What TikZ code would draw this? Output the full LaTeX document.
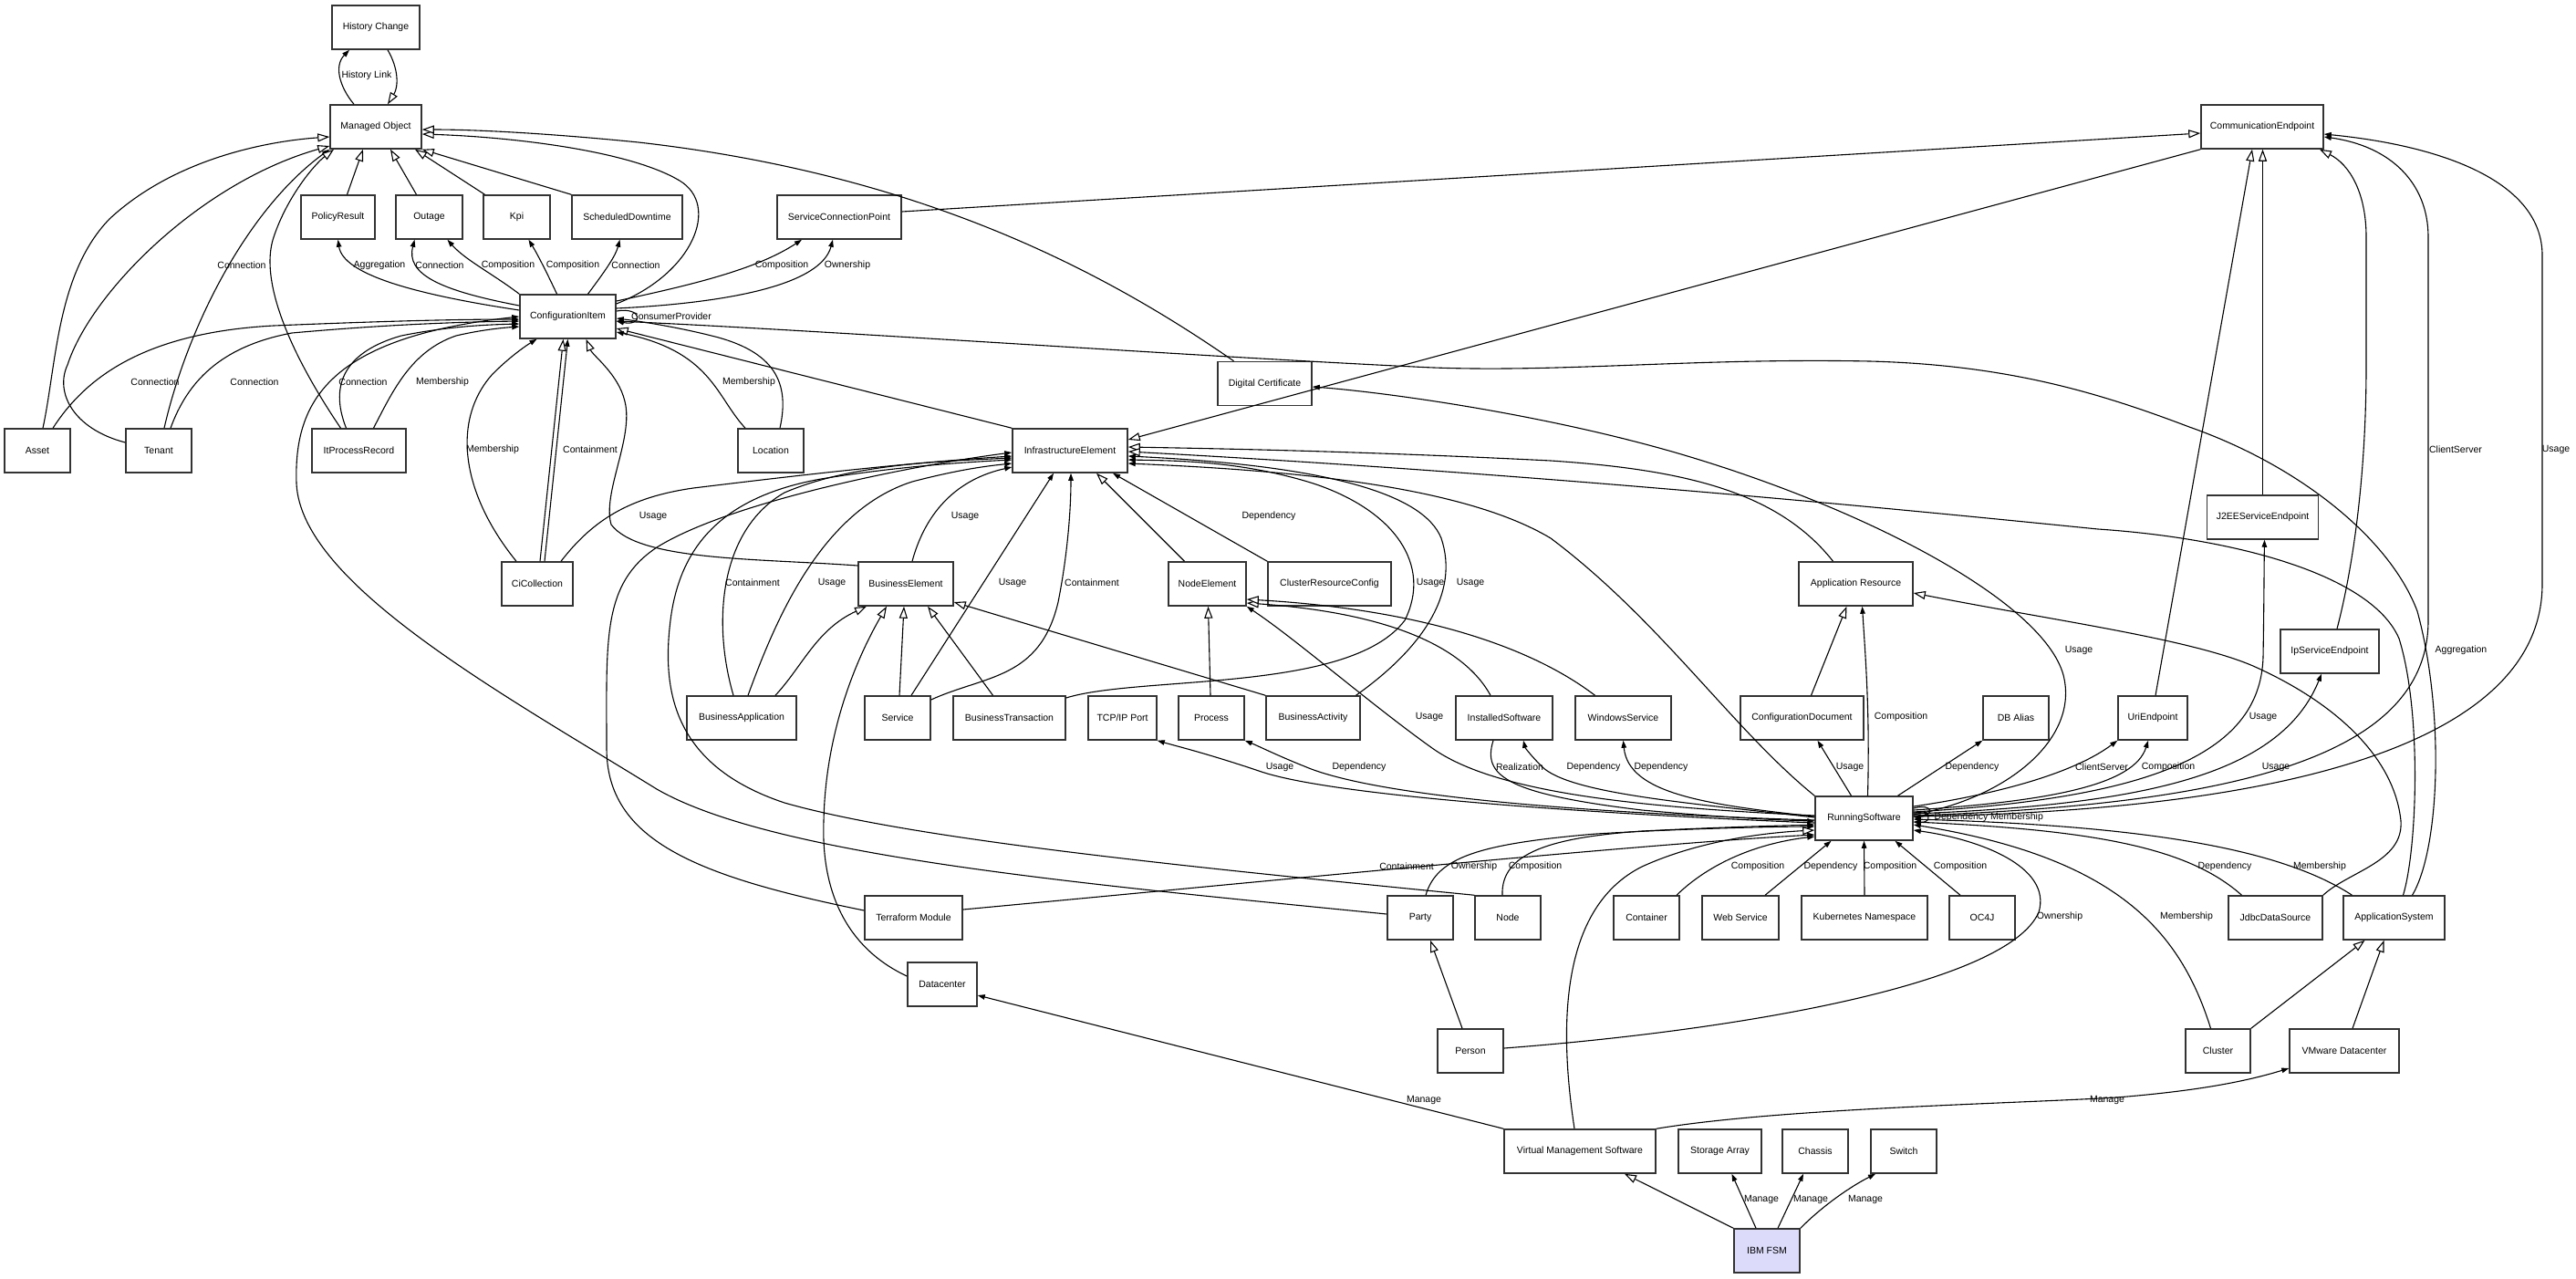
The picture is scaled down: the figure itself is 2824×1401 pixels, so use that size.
\documentclass[tikz,border=0pt]{standalone}
\usepackage{fontspec}
\setmainfont{Liberation Sans}
\usetikzlibrary{arrows.meta}
\begin{document}
\begin{tikzpicture}[x=1pt,y=-1pt,
  box/.style={draw=black!80,line width=1.5pt,minimum height=48pt,inner sep=0pt,font=\fontsize{10.5}{12}\selectfont,fill=white},
  lab/.style={font=\fontsize{10.5}{12}\selectfont,inner sep=0pt},
  gen/.style={line width=1.1pt,-{Triangle[length=13pt,width=9pt,fill=white]}},
  asc/.style={line width=1.1pt,-{Triangle[length=8pt,width=5.5pt]}}]
\useasboundingbox[fill=white] (0,0) rectangle (2824,1401);
% nodes
\node[box,minimum width=96pt] (hc) at (412,30) {History Change};
\node[box,minimum width=100pt] (mo) at (412,139) {Managed Object};
\node[box,minimum width=134pt] (ce) at (2480,139) {CommunicationEndpoint};
\node[box,minimum width=81pt] (pr) at (370.5,238) {PolicyResult};
\node[box,minimum width=73pt] (outg) at (470.5,238) {Outage};
\node[box,minimum width=73pt] (kpi) at (566.5,238) {Kpi};
\node[box,minimum width=121pt] (sd) at (687.5,238) {ScheduledDowntime};
\node[box,minimum width=136pt] (scp) at (920,238) {ServiceConnectionPoint};
\node[box,minimum width=105pt] (ci) at (622.5,347) {ConfigurationItem};
\node[box,minimum width=103pt] (dc) at (1386.5,420.5) {Digital Certificate};
\node[box,minimum width=72pt] (asset) at (41,494) {Asset};
\node[box,minimum width=72pt] (tenant) at (174,494) {Tenant};
\node[box,minimum width=103pt] (ipr) at (393.5,494) {ItProcessRecord};
\node[box,minimum width=72pt] (loc) at (845,494) {Location};
\node[box,minimum width=126pt] (ie) at (1173,494) {InfrastructureElement};
\node[box,minimum width=78pt] (cic) at (589,640) {CiCollection};
\node[box,minimum width=104pt] (be) at (993,640) {BusinessElement};
\node[box,minimum width=85pt] (ne) at (1323.5,640) {NodeElement};
\node[box,minimum width=135pt] (crc) at (1457.5,640) {ClusterResourceConfig};
\node[box,minimum width=125pt] (ar) at (2034.5,640) {Application Resource};
\node[box,minimum width=122pt] (j2ee) at (2480.5,567) {J2EEServiceEndpoint};
\node[box,minimum width=120pt] (ba) at (813,787) {BusinessApplication};
\node[box,minimum width=72pt] (svc) at (984,787) {Service};
\node[box,minimum width=123pt] (bt) at (1106.5,787) {BusinessTransaction};
\node[box,minimum width=75pt] (tcp) at (1230.5,787) {TCP/IP Port};
\node[box,minimum width=72pt] (proc) at (1328,787) {Process};
\node[box,minimum width=103pt] (bac) at (1439.5,787) {BusinessActivity};
\node[box,minimum width=106pt] (is) at (1649,787) {InstalledSoftware};
\node[box,minimum width=105pt] (ws) at (1779.5,787) {WindowsService};
\node[box,minimum width=135pt] (cd) at (1975.5,787) {ConfigurationDocument};
\node[box,minimum width=72pt] (dba) at (2210,787) {DB Alias};
\node[box,minimum width=76pt] (ue) at (2360,787) {UriEndpoint};
\node[box,minimum width=108pt] (ipse) at (2554,714) {IpServiceEndpoint};
\node[box,minimum width=107pt] (rs) at (2043.5,897) {RunningSoftware};
\node[box,minimum width=107pt] (tm) at (1001.5,1006) {Terraform Module};
\node[box,minimum width=72pt] (party) at (1557,1006) {Party};
\node[box,minimum width=72pt] (nd) at (1653,1006) {Node};
\node[box,minimum width=72pt] (cont) at (1805,1006) {Container};
\node[box,minimum width=84pt] (wsv) at (1908,1006) {Web Service};
\node[box,minimum width=138pt] (kn) at (2044,1006) {Kubernetes Namespace};
\node[box,minimum width=72pt] (oc4j) at (2173,1006) {OC4J};
\node[box,minimum width=103pt] (jds) at (2494.5,1006) {JdbcDataSource};
\node[box,minimum width=111pt] (as) at (2624.5,1006) {ApplicationSystem};
\node[box,minimum width=76pt] (dcn) at (1033,1079) {Datacenter};
\node[box,minimum width=72pt] (person) at (1612,1152) {Person};
\node[box,minimum width=71pt] (cluster) at (2431.5,1152) {Cluster};
\node[box,minimum width=120pt] (vmd) at (2570,1152) {VMware Datacenter};
\node[box,minimum width=166pt] (vms) at (1732,1262) {Virtual Management Software};
\node[box,minimum width=91pt] (sa) at (1885.5,1262) {Storage Array};
\node[box,minimum width=72pt] (chassis) at (1990,1262) {Chassis};
\node[box,minimum width=72pt] (sw) at (2087,1262) {Switch};
\node[box,minimum width=72pt,fill={rgb,255:red,220;green,220;blue,250}] (ibm) at (1937,1371) {IBM FSM};
% edges: top area
\draw[asc] ([xshift=-24pt]mo.north) .. controls (372,95) and (366,72) .. ([xshift=-29pt]hc.south);
\draw[gen] ([xshift=13pt]hc.south) .. controls (437,75) and (437,95) .. ([xshift=13pt]mo.north);
\draw[gen] ([xshift=10pt]pr.north) -- ([xshift=-14pt]mo.south);
\draw[gen] ([xshift=-14pt]outg.north) -- ([xshift=16pt]mo.south);
\draw[gen] ([xshift=-35pt]kpi.north) -- ([xshift=43pt]mo.south);
\draw[gen] (sd.north west) -- (mo.south east);
\draw[gen] ([yshift=14pt]ci.east) .. controls (760,300) and (790,225) .. (745,198) .. controls (690,165) and (560,150) .. ([yshift=-8pt]mo.east);
\draw[gen] ([xshift=-34pt]dc.north) .. controls (1200,290) and (1000,190) .. (700,156) .. controls (600,146) and (520,142) .. ([yshift=-3pt]mo.east);
\draw[gen] ([xshift=6pt]asset.north) .. controls (62,400) and (62,300) .. (120,240) .. controls (190,175) and (290,155) .. ([yshift=-11pt]mo.west);
\draw[gen] ([yshift=9pt]tenant.west) .. controls (80,470) and (60,430) .. (74,400) .. controls (100,320) and (220,200) .. ([yshift=-21pt]mo.west);
\draw[asc] ([xshift=6pt]tenant.north) .. controls (205,360) and (270,230) .. (mo.south west);
\draw[gen] ([xshift=-20pt]ipr.north) .. controls (340,420) and (280,320) .. (300,260) .. controls (315,215) and (345,180) .. ([xshift=-46pt]mo.south);
\draw[asc] ([yshift=7pt]ci.west) .. controls (450,322) and (376,300) .. (pr.south);
\draw[asc] ([yshift=12pt]ci.west) .. controls (480,318) and (445,300) .. ([xshift=-16pt]outg.south);
\draw[asc] (ci.north west) .. controls (540,300) and (510,285) .. ([xshift=20pt]outg.south);
\draw[asc] ([xshift=-12pt]ci.north) .. controls (600,300) and (590,280) .. ([xshift=13pt]kpi.south);
\draw[asc] ([xshift=22pt]ci.north) .. controls (665,295) and (675,280) .. ([xshift=-8pt]sd.south);
\draw[asc] ([yshift=17pt]ci.east) .. controls (760,312) and (830,295) .. ([xshift=-41pt]scp.south);
\draw[asc] ([yshift=9pt]ci.east) .. controls (800,332) and (900,312) .. ([xshift=-7pt]scp.south);
\draw[gen] ([yshift=6pt]scp.east) -- ([yshift=-7pt]ce.west);
\draw[asc] ([yshift=6pt]ci.east) .. controls (705,336) and (705,358) .. ([yshift=-5pt]ci.east);
\draw[asc] ([xshift=20pt]as.north) .. controls (2675,930) and (2680,780) .. (2650,670) .. controls (2620,590) and (2520,510) .. (2400,468) .. controls (2300,430) and (2200,400) .. (2050,396) .. controls (1850,392) and (1700,410) .. (1550,402) .. controls (1300,390) and (900,362) .. ([yshift=-5pt]ci.east);
\draw[gen] (ce.south west) -- ([yshift=12pt]ie.east);
\draw[gen] (ie.north west) -- ([yshift=-13pt]ci.east);
\draw[asc] ([xshift=-28pt]loc.north) .. controls (785,435) and (780,385) .. ([yshift=-17pt]ci.east);
\draw[asc] ([xshift=10pt]loc.north) .. controls (866,420) and (850,385) .. (780,368) .. controls (740,358) and (700,352) .. ([yshift=-2pt]ci.east);
% left cluster into CI
\draw[asc] ([xshift=17pt]asset.north) .. controls (90,420) and (150,365) .. (300,357) .. controls (420,352) and (500,350) .. ([yshift=-3pt]ci.west);
\draw[asc] ([xshift=13pt]tenant.north) .. controls (205,420) and (240,380) .. (320,365) .. controls (420,356) and (500,353) .. ([yshift=-5pt]ci.west);
\draw[asc] ([xshift=-14pt]ipr.north) .. controls (360,420) and (380,385) .. (440,368) .. controls (490,358) and (530,356) .. ([yshift=-8pt]ci.west);
\draw[asc] ([xshift=16pt]ipr.north) .. controls (430,430) and (450,385) .. (500,368) .. controls (530,361) and (555,359) .. ([yshift=-11pt]ci.west);
\draw[asc] ([yshift=4pt]party.west) .. controls (1200,970) and (850,940) .. (720,865) .. controls (550,760) and (330,640) .. (325,530) .. controls (322,440) and (360,370) .. (ci.west);
\draw[asc] ([xshift=-23pt]cic.north) .. controls (505,540) and (495,460) .. (540,410) .. controls (560,390) and (578,378) .. ([xshift=-34pt]ci.south);
\draw[gen] ([xshift=3pt]cic.north) -- ([xshift=-5pt]ci.south);
\draw[asc] ([xshift=8pt]cic.north) -- (ci.south);
\draw[gen] ([yshift=20pt]be.west) .. controls (830,612) and (700,615) .. (670,575) .. controls (660,540) and (695,480) .. (685,440) .. controls (678,410) and (650,390) .. ([xshift=20pt]ci.south);
% into InfrastructureElement
\draw[asc] ([xshift=26pt]cic.north) .. controls (650,570) and (690,545) .. (760,535) .. controls (900,518) and (1000,507) .. ([yshift=-6pt]ie.west);
\draw[asc] ([yshift=8pt]tm.west) .. controls (760,960) and (665,920) .. (665,820) .. controls (665,700) and (660,640) .. (720,600) .. controls (800,550) and (1000,510) .. ([yshift=-2pt]ie.west);
\draw[asc] (nd.north west) .. controls (1300,950) and (1000,920) .. (860,880) .. controls (740,840) and (725,760) .. (735,680) .. controls (745,600) and (790,545) .. (900,525) .. controls (980,512) and (1050,507) .. ([yshift=-10pt]ie.west);
\draw[asc] ([xshift=-9pt]ba.north) .. controls (780,680) and (790,580) .. (860,540) .. controls (930,510) and (1020,506) .. ([yshift=-8pt]ie.west);
\draw[asc] ([xshift=7pt]ba.north) .. controls (850,680) and (900,560) .. (1000,528) .. controls (1050,515) and (1080,511) .. ([yshift=-14pt]ie.west);
\draw[gen] ([xshift=37pt]ba.north) .. controls (880,730) and (895,690) .. ([xshift=-43pt]be.south);
\draw[asc] ([xshift=7pt]be.north) .. controls (1015,560) and (1050,525) .. ([yshift=-18pt]ie.west);
\draw[asc] ([xshift=15pt]svc.north) -- ([xshift=-18pt]ie.south);
\draw[gen] ([xshift=2pt]svc.north) -- ([xshift=-2pt]be.south);
\draw[gen] ([xshift=-18pt]bt.north) -- ([xshift=24pt]be.south);
\draw[gen] ([yshift=9pt]dcn.west) .. controls (930,1040) and (900,980) .. (903,900) .. controls (905,800) and (940,720) .. ([xshift=-21pt]be.south);
\draw[asc] ([yshift=20pt]svc.east) .. controls (1080,740) and (1140,745) .. (1160,660) .. controls (1170,610) and (1174,560) .. ([xshift=1pt]ie.south);
\draw[gen] ([xshift=-25pt]ne.north) -- ([xshift=29pt]ie.south);
\draw[asc] (crc.north west) -- ([xshift=47pt]ie.south);
\draw[gen] (bac.north west) -- ([yshift=-20pt]be.east);
\draw[gen] ([xshift=-1pt]proc.north) -- ([xshift=1pt]ne.south);
\draw[asc] ([yshift=22pt]bt.east) .. controls (1250,740) and (1480,760) .. (1540,680) .. controls (1570,620) and (1530,560) .. (1440,530) .. controls (1360,505) and (1290,505) .. ([yshift=-10pt]ie.east);
\draw[asc] ([xshift=47pt]bac.north) .. controls (1560,710) and (1600,650) .. (1580,590) .. controls (1560,540) and (1450,510) .. ([yshift=-6pt]ie.east);
\draw[gen] ([xshift=-25pt]ar.north) .. controls (1950,540) and (1850,515) .. (1700,505) .. controls (1500,495) and (1350,492) .. ([yshift=4pt]ie.east);
\draw[gen] ([xshift=10pt]as.north) .. controls (2650,930) and (2655,780) .. (2630,700) .. controls (2600,630) and (2450,590) .. (2300,580) .. controls (2100,560) and (1700,520) .. ([yshift=-1pt]ie.east);
\draw[asc] (rs.north west) .. controls (1900,800) and (1820,680) .. (1700,590) .. controls (1600,530) and (1400,515) .. ([yshift=-14pt]ie.east);
\draw[asc] ([yshift=4pt]rs.east) .. controls (2200,875) and (2280,810) .. (2262,740) .. controls (2240,660) and (2050,560) .. (1850,500) .. controls (1700,455) and (1520,430) .. ([yshift=-3.5pt]dc.east);
% RunningSoftware left / top
\draw[asc] ([yshift=-5pt]rs.west) .. controls (1700,890) and (1450,870) .. (1380,845) .. controls (1320,825) and (1290,818) .. (tcp.south east);
\draw[asc] ([yshift=-2pt]rs.west) .. controls (1700,890) and (1500,870) .. (1430,840) .. controls (1400,828) and (1380,818) .. (proc.south east);
\draw[asc] ([yshift=3pt]rs.west) .. controls (1800,885) and (1640,870) .. (1570,820) .. controls (1500,770) and (1420,700) .. (ne.south east);
\draw[gen] ([xshift=-15pt]is.north) .. controls (1600,700) and (1500,670) .. ([yshift=-21pt]ne.east);
\draw[gen] ([xshift=-31pt]ws.north) .. controls (1680,710) and (1560,668) .. ([yshift=-17pt]ne.east);
\draw[asc] ([xshift=-12pt]is.south) .. controls (1625,850) and (1650,870) .. (1800,888) .. controls (1900,897) and (1950,899) .. ([yshift=-3pt]rs.west);
\draw[asc] ([yshift=1pt]rs.west) .. controls (1850,880) and (1720,870) .. (1690,840) .. controls (1680,830) and (1672,820) .. ([xshift=21pt]is.south);
\draw[asc] ([yshift=2pt]rs.west) .. controls (1870,882) and (1785,870) .. (ws.south);
\draw[asc] ([xshift=-14pt]rs.north) -- ([xshift=17pt]cd.south);
\draw[gen] ([xshift=10pt]cd.north) -- ([xshift=-10pt]ar.south);
\draw[asc] ([xshift=4pt]rs.north) .. controls (2050,780) and (2045,720) .. ([xshift=7pt]ar.south);
\draw[asc] ([xshift=37pt]rs.north) -- (dba.south west);
% RunningSoftware right
\draw[asc] ([yshift=13pt]rs.east) .. controls (2180,872) and (2270,850) .. (ue.south west);
\draw[asc] ([yshift=9pt]rs.east) .. controls (2250,878) and (2340,860) .. ([xshift=-5pt]ue.south);
\draw[gen] ([xshift=3pt]ue.north) -- ([xshift=-11pt]ce.south);
\draw[gen] (j2ee.north) -- (j2ee.north |- ce.south);
\draw[asc] ([yshift=7pt]rs.east) .. controls (2350,875) and (2478,830) .. (2481,720) .. controls (2482,660) and (2482,620) .. ([xshift=2pt]j2ee.south);
\draw[gen] ([xshift=8pt]ipse.north) .. controls (2580,620) and (2594,520) .. (2594,400) -- (2594,260) .. controls (2594,210) and (2575,180) .. ([xshift=63pt]ce.south);
\draw[asc] ([yshift=5pt]rs.east) .. controls (2350,882) and (2500,850) .. ([xshift=-9pt]ipse.south);
\draw[asc] ([yshift=3pt]rs.east) .. controls (2450,882) and (2662,830) .. (2662,680) -- (2662,260) .. controls (2662,200) and (2620,160) .. ([yshift=-11pt]ce.east);
\draw[asc] ([yshift=2pt]rs.east) .. controls (2550,888) and (2787,800) .. (2787,640) -- (2787,280) .. controls (2787,200) and (2680,160) .. ([yshift=-8pt]ce.east);
\draw[asc] ([yshift=11pt]rs.east) .. controls (2120,880) and (2120,894) .. ([yshift=1pt]rs.east);
\draw[asc] ([yshift=6pt]rs.east) .. controls (2118,888) and (2118,902) .. ([yshift=-4pt]rs.east);
% RunningSoftware bottom
\draw[asc] ([yshift=9pt]tm.east) .. controls (1400,965) and (1800,925) .. ([yshift=-18pt]rs.west);
\draw[asc] ([xshift=6pt]party.north) .. controls (1575,940) and (1620,925) .. (1750,914) .. controls (1850,908) and (1950,906) .. ([yshift=-9pt]rs.west);
\draw[asc] ([xshift=-6pt]nd.north) .. controls (1645,935) and (1700,918) .. (1800,911) .. controls (1900,906) and (1960,905) .. ([yshift=-7pt]rs.west);
\draw[gen] ([xshift=-6pt]vms.north) .. controls (1705,1100) and (1720,990) .. (1800,950) .. controls (1870,918) and (1950,912) .. ([yshift=-13pt]rs.west);
\draw[asc] ([xshift=33pt]cont.north) .. controls (1870,950) and (1920,925) .. ([yshift=-20pt]rs.west);
\draw[asc] ([xshift=27pt]wsv.north) -- ([xshift=-36pt]rs.south);
\draw[asc] (kn.north) -- (rs.south);
\draw[asc] ([xshift=-24pt]oc4j.north) -- ([xshift=34pt]rs.south);
\draw[asc] ([yshift=3pt]person.east) .. controls (1900,1130) and (2200,1080) .. (2235,1000) .. controls (2250,950) and (2170,920) .. ([yshift=-13pt]rs.east);
\draw[gen] ([xshift=-9pt]person.north) -- ([xshift=11pt]party.south);
\draw[asc] ([xshift=-8pt]cluster.north) .. controls (2390,1020) and (2320,940) .. ([yshift=-7pt]rs.east);
\draw[asc] ([xshift=-37pt]jds.north) .. controls (2400,930) and (2300,910) .. ([yshift=-4pt]rs.east);
\draw[asc] ([xshift=-46pt]as.north) .. controls (2500,930) and (2350,905) .. ([yshift=-1pt]rs.east);
\draw[gen] (jds.north east) .. controls (2575,955) and (2635,945) .. (2632,900) .. controls (2625,830) and (2560,770) .. (2470,730) .. controls (2400,700) and (2250,680) .. ([yshift=-10pt]ar.east);
\draw[gen] (cluster.north east) -- ([xshift=-32pt]as.south);
\draw[gen] ([xshift=9pt]vmd.north) -- ([xshift=-11pt]as.south);
% bottom
\draw[asc] (vms.north east) .. controls (1950,1215) and (2200,1210) .. (2320,1203) .. controls (2420,1195) and (2470,1183) .. ([yshift=-19pt]vmd.west);
\draw[asc] (vms.north west) -- ([yshift=-12pt]dcn.east);
\draw[gen] (ibm.north west) -- ([xshift=49pt]vms.south);
\draw[asc] ([xshift=-12pt]ibm.north) -- ([xshift=13pt]sa.south);
\draw[asc] ([xshift=12pt]ibm.north) -- ([xshift=-13pt]chassis.south);
\draw[asc] (ibm.north east) .. controls (2000,1320) and (2030,1300) .. ([xshift=-31pt]sw.south);
% labels
\node[lab] (l1) at (402,83) {History Link};
\node[lab] (l2) at (265,291) {Connection};
\node[lab] (l3) at (416,291) {Aggregation};
\node[lab] (l4) at (482,291) {Connection};
\node[lab] (l5) at (557,291) {Composition};
\node[lab] (l6) at (628,291) {Composition};
\node[lab] (l7) at (697,291) {Connection};
\node[lab] (l8) at (857,291) {Composition};
\node[lab] (l9) at (929,291) {Ownership};
\node[lab] (l10) at (736,347) {ConsumerProvider};
\node[lab] (l11) at (170,419) {Connection};
\node[lab] (l12) at (279,419) {Connection};
\node[lab] (l13) at (398,419) {Connection};
\node[lab] (l14) at (485,419) {Membership};
\node[lab] (l15) at (821,419) {Membership};
\node[lab] (l16) at (540,493) {Membership};
\node[lab] (l17) at (647,493) {Containment};
\node[lab] (l18) at (716,566) {Usage};
\node[lab] (l19) at (1058,566) {Usage};
\node[lab] (l20) at (1391,566) {Dependency};
\node[lab] (l21) at (825,639) {Containment};
\node[lab] (l22) at (912,639) {Usage};
\node[lab] (l23) at (1110,639) {Usage};
\node[lab] (l24) at (1197,639) {Containment};
\node[lab] (l25) at (1568,639) {Usage};
\node[lab] (l26) at (1612,639) {Usage};
\node[lab] (l27) at (1567,786) {Usage};
\node[lab] (l28) at (1403,841) {Usage};
\node[lab] (l29) at (1490,841) {Dependency};
\node[lab] (l30) at (1666,841) {Realization};
\node[lab] (l31) at (1747,841) {Dependency};
\node[lab] (l32) at (1821,841) {Dependency};
\node[lab] (l33) at (2028,841) {Usage};
\node[lab] (l34) at (2084,786) {Composition};
\node[lab] (l35) at (2162,841) {Dependency};
\node[lab] (l36) at (2304,841) {ClientServer};
\node[lab] (l37) at (2377,841) {Composition};
\node[lab] (l38) at (2481,786) {Usage};
\node[lab] (l39) at (2495,841) {Usage};
\node[lab] (l40) at (2692,493) {ClientServer};
\node[lab] (l41) at (2802,493) {Usage};
\node[lab] (l42) at (2698,713) {Aggregation};
\node[lab] (l43) at (2279,713) {Usage};
\node[lab] (l44) at (2150,896) {Dependency};
\node[lab] (l45) at (2211,896) {Membership};
\node[lab] (l46) at (1542,950) {Containment};
\node[lab] (l47) at (1616,950) {Ownership};
\node[lab] (l48) at (1683,950) {Composition};
\node[lab] (l49) at (1927,950) {Composition};
\node[lab] (l50) at (2007,950) {Dependency};
\node[lab] (l51) at (2072,950) {Composition};
\node[lab] (l52) at (2149,950) {Composition};
\node[lab] (l53) at (2258,1005) {Ownership};
\node[lab] (l54) at (2397,1005) {Membership};
\node[lab] (l55) at (2439,950) {Dependency};
\node[lab] (l56) at (2543,950) {Membership};
\node[lab] (l57) at (1561,1206) {Manage};
\node[lab] (l58) at (2310,1206) {Manage};
\node[lab] (l59) at (1931,1315) {Manage};
\node[lab] (l60) at (1985,1315) {Manage};
\node[lab] (l61) at (2045,1315) {Manage};
\end{tikzpicture}
\end{document}
